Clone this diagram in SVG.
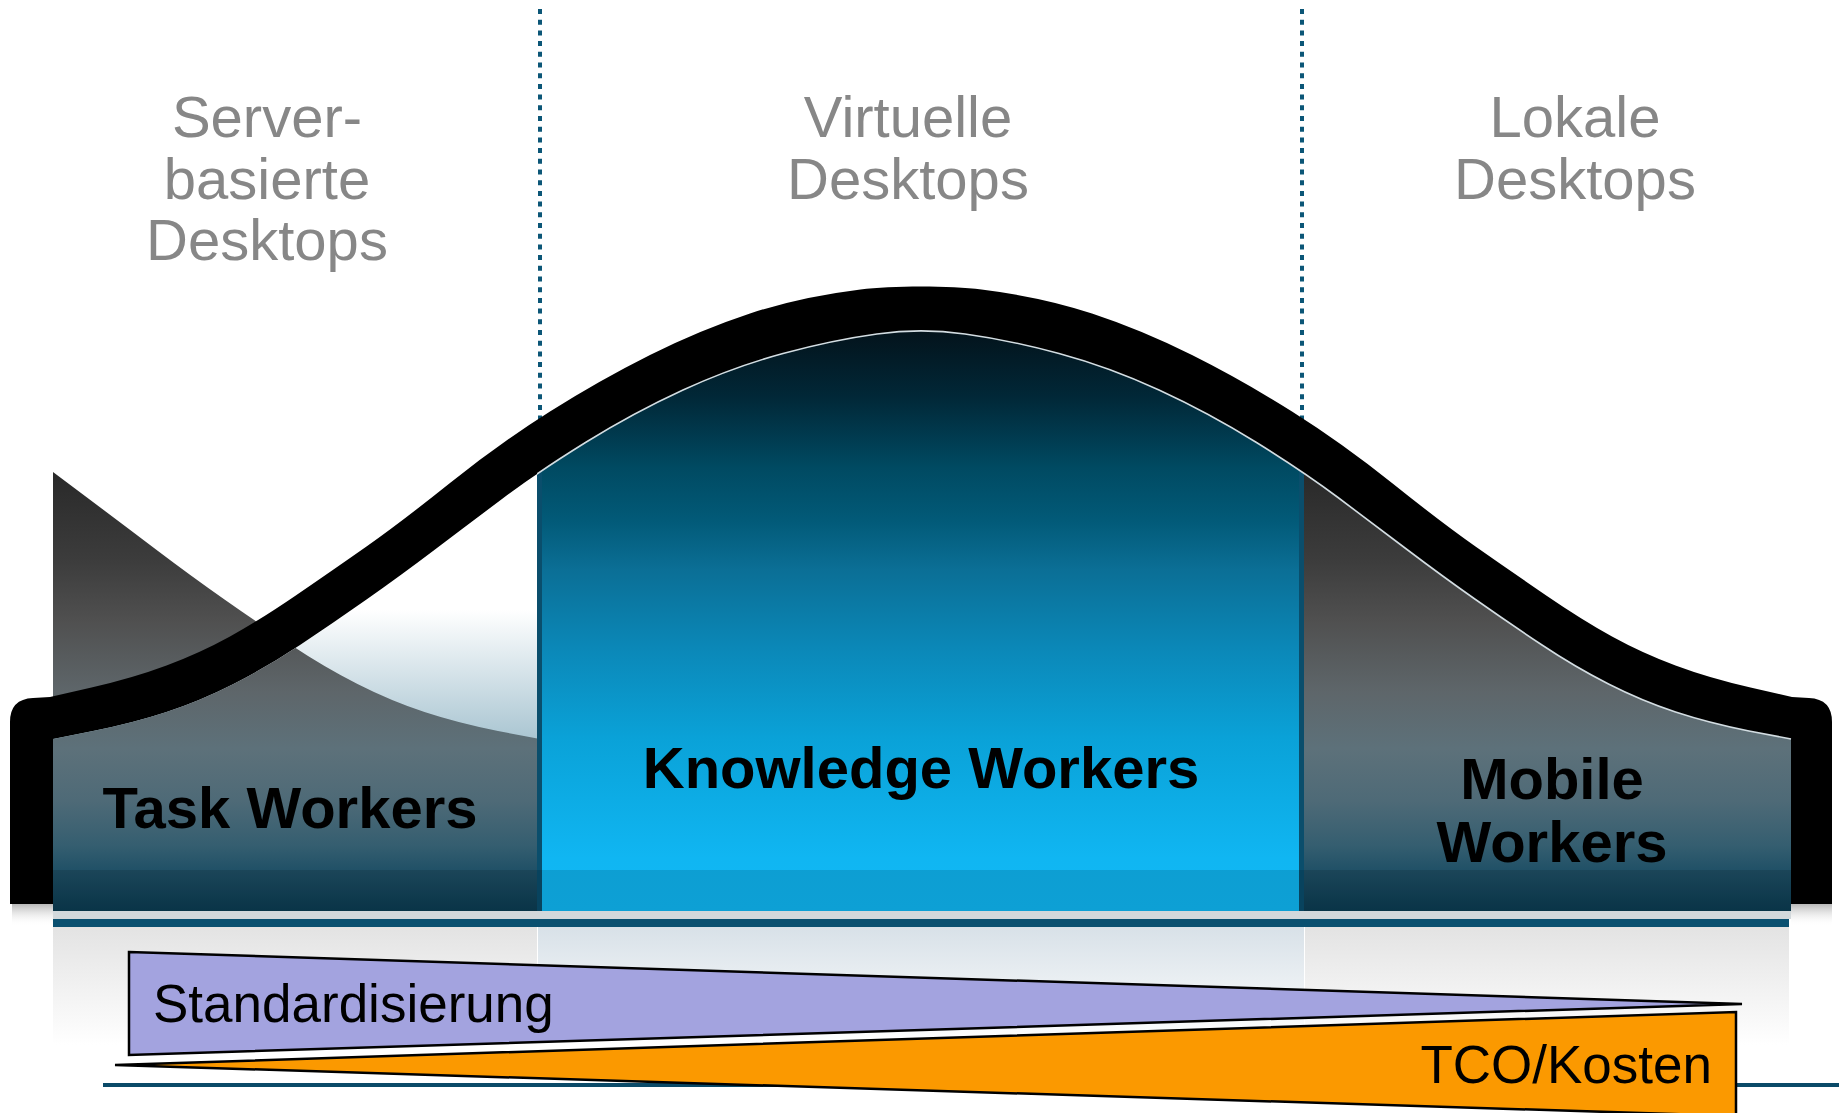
<svg xmlns="http://www.w3.org/2000/svg" xmlns:xlink="http://www.w3.org/1999/xlink" width="1839" height="1113" viewBox="0 0 1839 1113">
<style>
.hdr{font-family:"Liberation Sans",Arial,sans-serif;font-size:58px;fill:#878787;text-anchor:middle}
.lbl{font-family:"Liberation Sans",Arial,sans-serif;font-size:58px;font-weight:bold;fill:#000;text-anchor:middle}
.bar{font-family:"Liberation Sans",Arial,sans-serif;font-size:53px;fill:#000}
.dot{stroke:#0b5677;stroke-width:4;stroke-dasharray:5 5.7;fill:none}
.tri{stroke:#000;stroke-width:2.5;stroke-linejoin:miter}
</style>
<defs>
<linearGradient id="gGray" gradientUnits="userSpaceOnUse" x1="0" y1="472" x2="0" y2="911">
<stop offset="0" stop-color="#292929"/>
<stop offset="0.2" stop-color="#3c3c3c"/>
<stop offset="0.34" stop-color="#505050"/>
<stop offset="0.5" stop-color="#5e666a"/>
<stop offset="0.63" stop-color="#5d717a"/>
<stop offset="0.75" stop-color="#4e6a77"/>
<stop offset="0.85" stop-color="#355e70"/>
<stop offset="0.91" stop-color="#1f5066"/>
<stop offset="1" stop-color="#0b3c52"/>
</linearGradient>
<linearGradient id="gBlue" gradientUnits="userSpaceOnUse" x1="0" y1="328" x2="0" y2="911">
<stop offset="0" stop-color="#03121a"/>
<stop offset="0.12" stop-color="#012838"/>
<stop offset="0.24" stop-color="#004a62"/>
<stop offset="0.33" stop-color="#025a78"/>
<stop offset="0.415" stop-color="#0b6f96"/>
<stop offset="0.55" stop-color="#0b88b8"/>
<stop offset="0.705" stop-color="#0aa2d8"/>
<stop offset="0.91" stop-color="#10b6f2"/>
<stop offset="1" stop-color="#10b8f5"/>
</linearGradient>
<linearGradient id="gLight" gradientUnits="userSpaceOnUse" x1="0" y1="470" x2="0" y2="911">
<stop offset="0.317" stop-color="#ffffff"/>
<stop offset="0.624" stop-color="#a6c3d0"/>
<stop offset="1" stop-color="#8fb0c0"/>
</linearGradient>
<linearGradient id="gReflGray" x1="0" y1="0" x2="0" y2="1">
<stop offset="0" stop-color="#e3e3e3"/>
<stop offset="1" stop-color="#ffffff"/>
</linearGradient>
<linearGradient id="gReflBlue" x1="0" y1="0" x2="0" y2="1">
<stop offset="0" stop-color="#d8e1e8"/>
<stop offset="1" stop-color="#ffffff"/>
</linearGradient>
<linearGradient id="gShadow" x1="0" y1="0" x2="0" y2="1">
<stop offset="0" stop-color="#b8b8b8"/>
<stop offset="1" stop-color="#ffffff" stop-opacity="0"/>
</linearGradient>
<path id="workShape" d="M1304,472 L1338,497.5 Q1372,523 1407,549.5 Q1442,576 1475.5,599.5 Q1509,623 1542,645 Q1575,667 1608.5,684 Q1642,701 1675.5,712 Q1709,723 1749,731 L1791,739 L1791,911 L1304,911 Z"/>
<path id="innerCurve" d="M53,739 L93,731 Q133,723 166.5,712 Q200,701 233.5,684 Q267,667 300,645 Q333,623 366.5,599.5 Q400,576 435,549.5 Q470,523 504,497.5 Q538,472 585.5,442.5 Q633,413 683,390 Q733,367 783,353.5 Q833,340 877,334 C905,330 937,330 965,334 Q1009,340 1059,353.5 Q1109,367 1159,390 Q1209,413 1256.5,442.5 Q1304,472 1338,497.5 Q1372,523 1407,549.5 Q1442,576 1475.5,599.5 Q1509,623 1542,645 Q1575,667 1608.5,684 Q1642,701 1675.5,712 Q1709,723 1749,731 L1791,739"/>
<clipPath id="bellClip">
<path d="M53,911 L53,739 L93,731 Q133,723 166.5,712 Q200,701 233.5,684 Q267,667 300,645 Q333,623 366.5,599.5 Q400,576 435,549.5 Q470,523 504,497.5 Q538,472 585.5,442.5 Q633,413 683,390 Q733,367 783,353.5 Q833,340 877,334 C905,330 937,330 965,334 Q1009,340 1059,353.5 Q1109,367 1159,390 Q1209,413 1256.5,442.5 Q1304,472 1338,497.5 Q1372,523 1407,549.5 Q1442,576 1475.5,599.5 Q1509,623 1542,645 Q1575,667 1608.5,684 Q1642,701 1675.5,712 Q1709,723 1749,731 L1791,739 L1791,911 Z"/>
</clipPath>
<clipPath id="rightOfBlue"><rect x="537" y="250" width="1302" height="700"/></clipPath>
</defs>
<rect width="1839" height="1113" fill="#ffffff"/>

<g id="reflection">
<rect x="53" y="927" width="484" height="118" fill="url(#gReflGray)"/>
<rect x="538" y="927" width="766" height="118" fill="url(#gReflBlue)"/>
<rect x="1305" y="927" width="484" height="118" fill="url(#gReflGray)"/>
<rect x="12" y="904" width="41" height="22" fill="url(#gShadow)"/>
<rect x="1791" y="904" width="41" height="22" fill="url(#gShadow)"/>
</g>

<g id="dividers">
<line class="dot" x1="540" y1="9" x2="540" y2="470"/>
<line class="dot" x1="1302" y1="9" x2="1302" y2="470"/>
</g>

<g id="header-server">
<text class="hdr" x="267" y="137">Server-</text>
<text class="hdr" x="267" y="199">basierte</text>
<text class="hdr" x="267" y="260">Desktops</text>
</g>
<g id="header-virtual">
<text class="hdr" x="908" y="137">Virtuelle</text>
<text class="hdr" x="908" y="199">Desktops</text>
</g>
<g id="header-local">
<text class="hdr" x="1575" y="137">Lokale</text>
<text class="hdr" x="1575" y="199">Desktops</text>
</g>

<g id="bell">
<use xlink:href="#workShape" href="#workShape" fill="url(#gGray)" transform="translate(-1251,0)"/>
<path fill="#000" d="M10,904 L10,722 Q10,699 33,698 L50,697 L91.5,687.5 Q133,678 166.5,665.5 Q200,653 230,636.5 Q260,620 296.5,595 Q333,570 366.5,546.5 Q400,523 450,483 Q500,443 550,411.5 Q600,380 650,355 Q700,330 750,313.5 Q800,297 860.5,289.5 C891,285.5 951,285.5 981.5,289.5 Q1042,297 1092,313.5 Q1142,330 1192,355 Q1242,380 1292,411.5 Q1342,443 1392,483 Q1442,523 1475.5,546.5 Q1509,570 1545.5,595 Q1582,620 1612,636.5 Q1642,653 1675.5,665.5 Q1709,678 1750.5,687.5 L1792,697 L1809,698 Q1832,699 1832,722 L1832,904 Z"/>
<g clip-path="url(#bellClip)">
<g id="task-workers">
<rect x="53" y="440" width="485" height="471" fill="url(#gLight)"/>
<use xlink:href="#workShape" href="#workShape" fill="url(#gGray)" transform="translate(-1251,0)"/>
</g>
<g id="knowledge-workers">
<rect x="537" y="300" width="767" height="611" fill="url(#gBlue)"/>
<line x1="539.5" y1="300" x2="539.5" y2="911" stroke="#0a4e6c" stroke-width="5"/>
<line x1="1301.5" y1="300" x2="1301.5" y2="911" stroke="#0a4e6c" stroke-width="5"/>
</g>
<g id="mobile-workers">
<use xlink:href="#workShape" href="#workShape" fill="url(#gGray)"/>
</g>
<rect x="53" y="870" width="1738" height="41" fill="#000" opacity="0.13"/>
</g>
<use xlink:href="#innerCurve" href="#innerCurve" fill="none" stroke="#d3dde2" stroke-width="1.6" clip-path="url(#rightOfBlue)"/>
</g>

<g id="base">
<rect x="53" y="911" width="1738" height="8" fill="#d2d8db"/>
<rect x="53" y="919" width="1736" height="8" fill="#0a5070"/>
</g>

<g id="labels">
<text class="lbl" x="290" y="828">Task Workers</text>
<text class="lbl" x="921" y="788">Knowledge Workers</text>
<text class="lbl" x="1552" y="799">Mobile</text>
<text class="lbl" x="1552" y="862">Workers</text>
</g>

<g id="connectors">
<line x1="103" y1="1085" x2="1839" y2="1085" stroke="#0a4a68" stroke-width="4"/>
</g>

<g id="standardisierung">
<polygon class="tri" points="129,952 1742,1004 129,1055" fill="#a3a3df"/>
<text class="bar" x="153" y="1022">Standardisierung</text>
</g>
<g id="tco">
<polygon class="tri" points="115,1065 1736,1012 1736,1116" fill="#fb9900"/>
<text class="bar" x="1712" y="1083" text-anchor="end">TCO/Kosten</text>
</g>
</svg>
